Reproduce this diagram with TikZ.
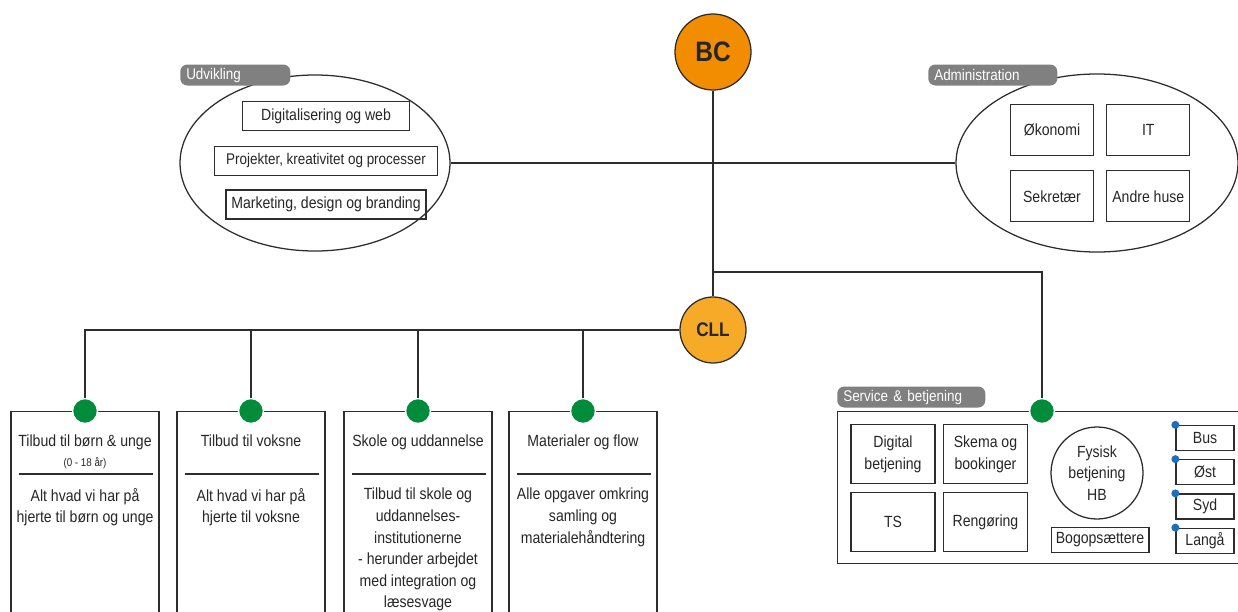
\documentclass[tikz,border=0pt]{standalone}
\usepackage{fontspec}
\setmainfont[FakeStretch=0.87]{Liberation Sans}
\usetikzlibrary{positioning, shapes.geometric}

\definecolor{bcorange}{RGB}{242,140,0}
\definecolor{cllorange}{RGB}{246,170,40}
\definecolor{dotgreen}{RGB}{0,140,58}
\definecolor{dotblue}{RGB}{28,110,190}
\definecolor{tabgray}{RGB}{128,128,128}
\definecolor{linegray}{RGB}{45,45,45}

\newcommand{\px}{0.025cm}

\begin{document}
\begin{tikzpicture}[
x=\px, y=-\px,
every node/.style={font=\fontsize{11.5}{15.4}\selectfont, text=black!85},
line/.style={draw=linegray, line width=1pt},
hub/.style={circle, draw=linegray, line width=0.9pt, inner sep=0pt},
ring/.style={ellipse, draw=linegray, line width=0.9pt},
tab/.style={fill=tabgray, text=white, rounded corners=5pt, anchor=west, minimum height=21*\px, inner xsep=6*\px, inner ysep=0pt, text width=#1*\px, align=left, font=\fontsize{11}{13}\selectfont},
box/.style={rectangle, draw=linegray, line width=0.9pt, inner xsep=1pt, minimum width=#1*\px, minimum height=29*\px},
cell/.style={rectangle, draw=linegray, line width=0.9pt, minimum width=#1, align=center},
cell/.default=83*\px,
colbox/.style={rectangle, draw=linegray, line width=0.9pt, anchor=north, minimum width=148*\px, minimum height=230*\px},
coltext/.style={anchor=north, align=center},
sepline/.style={draw=linegray, line width=0.9pt},
gdot/.style={circle, fill=dotgreen, draw=white, line width=1pt, minimum size=25*\px, inner sep=0pt},
bdot/.style={circle, fill=dotblue, minimum size=8*\px, inner sep=0pt},
sbox/.style={rectangle, draw=linegray, line width=0.9pt, minimum width=58*\px, minimum height=25*\px, inner sep=0pt}
]
\useasboundingbox (0,0) rectangle (1238,612);

% Niveau 1 - BC
\node[hub, fill=bcorange, minimum size=76*\px, font=\fontsize{20}{22}\selectfont\bfseries] (bc) at (713,52) {BC};

% Udvikling
\node[ring, minimum width=270*\px, minimum height=176*\px] (udv) at (315,163) {};
\node[tab=98] (udvtab) at (180,75) {Udvikling};
\node[box=167] (digi) at (326,116) {Digitalisering og web};
\node[box=223, below=0.36cm of digi, font=\fontsize{11}{15}\selectfont] (proj) {Projekter, kreativitet og processer};
\node[box=200, below=0.34cm of proj] (mark) {Marketing, design og branding};

% Administration
\node[ring, minimum width=282*\px, minimum height=178*\px] (adm) at (1097,163) {};
\node[tab=117] (admtab) at (928,75) {Administration};
\node[cell, minimum height=51*\px] (oko) at (1052,130) {Økonomi};
\node[cell, minimum height=51*\px, right=0.3cm of oko] (it) {IT};
\node[cell, minimum height=51*\px, below=0.35cm of oko] (sek) {Sekretær};
\node[cell, minimum height=51*\px, below=0.35cm of it] (andre) {Andre huse};

% Niveau 2 - CLL
\node[hub, fill=cllorange, minimum size=66*\px, font=\fontsize{14}{16}\selectfont\bfseries] (cll) at (713,330) {CLL};
\coordinate (split) at (713,272);

% Niveau 3 - kolonner under CLL
\node[colbox] (col1) at (85,411) {};
\node[colbox] (col2) at (251,411) {};
\node[colbox] (col3) at (418,411) {};
\node[colbox] (col4) at (583,411) {};

\node[gdot] (dot1) at (col1.north) {};
\node[gdot] (dot2) at (col2.north) {};
\node[gdot] (dot3) at (col3.north) {};
\node[gdot] (dot4) at (col4.north) {};

\node[coltext] (titel1) at ([shift={(0,19)}]col1.north) {Tilbud til børn \& unge};
\node[coltext, font=\fontsize{8}{9}\selectfont] (alder1) at ([shift={(0,41)}]col1.north) {(0 - 18 år)};
\node[coltext] (titel2) at ([shift={(0,19)}]col2.north) {Tilbud til voksne};
\node[coltext] (titel3) at ([shift={(0,19)}]col3.north) {Skole og uddannelse};
\node[coltext] (titel4) at ([shift={(0,19)}]col4.north) {Materialer og flow};

\draw[sepline] ([shift={(9,63)}]col1.north west) -- ([shift={(-7,63)}]col1.north east);
\draw[sepline] ([shift={(9,63)}]col2.north west) -- ([shift={(-7,63)}]col2.north east);
\draw[sepline] ([shift={(9,63)}]col3.north west) -- ([shift={(-7,63)}]col3.north east);
\draw[sepline] ([shift={(9,63)}]col4.north west) -- ([shift={(-7,63)}]col4.north east);

\node[coltext] (tekst1) at ([shift={(0,72)}]col1.north) {Alt hvad vi har på\\hjerte til børn og unge};
\node[coltext] (tekst2) at ([shift={(0,72)}]col2.north) {Alt hvad vi har på\\hjerte til voksne};
\node[coltext] (tekst3) at ([shift={(0,72)}]col3.north) {Tilbud til skole og\\uddannelses-\\institutionerne\\- herunder arbejdet\\med integration og\\læsesvage};
\node[coltext] (tekst4) at ([shift={(0,72)}]col4.north) {Alle opgaver omkring\\samling og\\materialehåndtering};

% Service & betjening
\node[rectangle, draw=linegray, line width=0.9pt, anchor=north west, minimum width=430*\px, minimum height=152*\px] (serv) at (837,411) {};
\node[tab=136] (servtab) at (837,397) {Service \& betjening};
\node[gdot] (servdot) at (1042,411) {};

\node[cell=84*\px, minimum height=59*\px] (digb) at (893,454) {Digital\\betjening};
\node[cell=84*\px, minimum height=59*\px, right=0.18cm of digb] (skema) {Skema og\\bookinger};
\node[cell=84*\px, minimum height=59*\px, below=0.2cm of digb] (ts) {TS};
\node[cell=84*\px, minimum height=59*\px, below=0.2cm of skema] (reng) {Rengøring};

\node[hub, minimum size=92*\px, align=center] (hb) at (1097,473) {Fysisk\\betjening\\HB};
\node[cell=96*\px, minimum height=25*\px] (bog) at (1100,540) {Bogopsættere};

\node[sbox] (bus) at (1205,438) {Bus};
\node[sbox, below=0.2cm of bus] (ost) {Øst};
\node[sbox, below=0.2cm of ost] (syd) {Syd};
\node[sbox, below=0.2cm of syd] (langa) {Langå};
\node[bdot] (busdot) at (bus.north west) {};
\node[bdot] (ostdot) at (ost.north west) {};
\node[bdot] (syddot) at (syd.north west) {};
\node[bdot] (langadot) at (langa.north west) {};

% Linjer
\draw[line] (bc) -- (cll);
\draw[line] (udv) -- (adm);
\draw[line] (split) -| (servdot);

\draw[line] (cll) -| (dot1);
\draw[line] (cll) -| (dot2);
\draw[line] (cll) -| (dot3);
\draw[line] (cll) -| (dot4);

\end{tikzpicture}
\end{document}
